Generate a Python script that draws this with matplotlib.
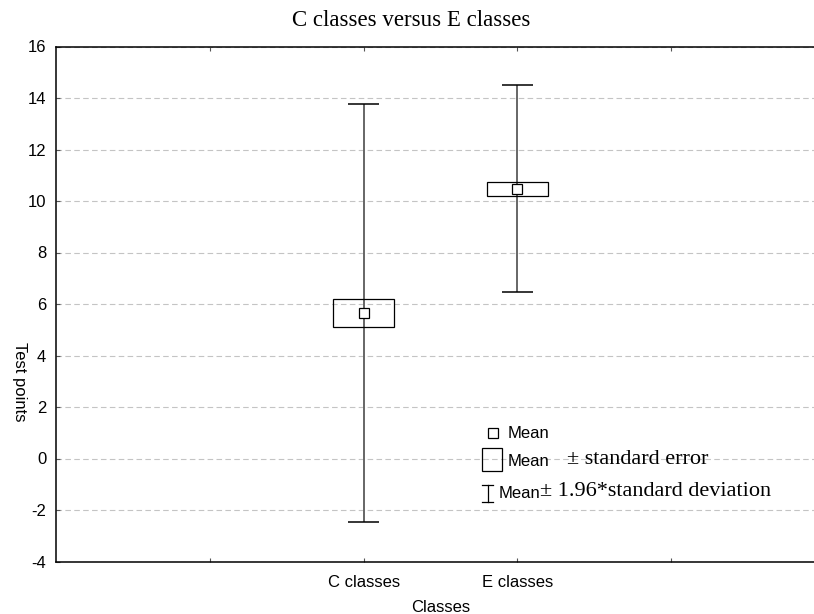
import matplotlib
matplotlib.use("Agg")
import matplotlib.pyplot as plt
from matplotlib.lines import Line2D
from matplotlib.patches import Rectangle

# data
groups = ["C classes", "E classes"]
means = [5.65, 10.48]
std_err = [0.54, 0.27]
ci_196sd = [8.11, 4.02]

tick_pos = [1, 2, 3, 4]
tick_labels = ["", "C classes", "E classes", ""]
group_pos = [2, 3]

SANS = "Liberation Sans"
SERIF = "Liberation Serif"
W, H = 814, 614

plt.rcParams["axes.unicode_minus"] = False

fig = plt.figure(figsize=(W / 100, H / 100), dpi=100)
# right spine falls outside the image in the original
ax = fig.add_axes([56 / W, 52.5 / H, 769 / W, 515 / H])

ax.set_xlim(0, 5)
ax.set_ylim(-4, 16)
ax.set_yticks(range(-4, 17, 2))
ax.set_xticks(tick_pos)
ax.set_xticklabels(tick_labels, fontfamily=SANS, fontsize=12)
for lab in ax.get_yticklabels():
    lab.set_fontfamily(SANS)
    lab.set_fontsize(12)
ax.tick_params(axis="both", direction="in", length=3, color="#555555", pad=7)
ax.tick_params(axis="x", top=True, pad=10)

ax.yaxis.grid(True, linestyle=(0, (5, 3)), color="#c4c4c4", linewidth=0.8)
ax.set_axisbelow(True)
for side in ["left", "top", "bottom"]:
    ax.spines[side].set_linewidth(1.1)
ax.spines["right"].set_visible(False)

lo = [m - c for m, c in zip(means, ci_196sd)]
hi = [m + c for m, c in zip(means, ci_196sd)]

# whiskers (gray) with black caps
ax.vlines(group_pos, lo, hi, color="#666666", linewidth=1.4, zorder=2)
caps_x0 = [p - 0.1 for p in group_pos]
caps_x1 = [p + 0.1 for p in group_pos]
ax.hlines(lo, caps_x0, caps_x1, color="black", linewidth=1.1, zorder=3)
ax.hlines(hi, caps_x0, caps_x1, color="black", linewidth=1.1, zorder=3)

# mean +- standard error boxes
ax.bar(group_pos, [2 * s for s in std_err],
       bottom=[m - s for m, s in zip(means, std_err)],
       width=0.4, fill=False, edgecolor="black", linewidth=0.9, zorder=3)

# means
ax.plot(group_pos, means, linestyle="none", marker="s", markersize=6.5,
        markerfacecolor="white", markeredgecolor="black",
        markeredgewidth=0.9, zorder=4)

ax.set_xlabel("Classes", fontfamily=SANS, fontsize=12, labelpad=7)
ax.set_ylabel("Test points", fontfamily=SANS, fontsize=12,
              rotation=270, va="center", labelpad=4)
ax.yaxis.set_label_coords(-37 / 769, 0.35)

fig.text(411 / W, 1 - 21 / H, "C classes versus E classes",
         fontfamily=SERIF, fontsize=16.5, ha="center", va="center")


# hand-built legend, placed in figure pixels
def fx(x):
    return x / W


def fy(y):
    return 1 - y / H


tf = fig.transFigure
fig.add_artist(Line2D([fx(493)], [fy(433)], marker="s", markersize=6.5,
                      markerfacecolor="white", markeredgecolor="black",
                      markeredgewidth=0.9, transform=tf))
fig.add_artist(Rectangle((fx(482), fy(471)), 20 / W, 23 / H, fill=False,
                         edgecolor="black", linewidth=0.9, transform=tf))
fig.add_artist(Line2D([fx(487.5), fx(487.5)], [fy(485), fy(502)],
                      color="black", linewidth=0.9, transform=tf))
fig.add_artist(Line2D([fx(482), fx(493)], [fy(485), fy(485)],
                      color="black", linewidth=0.9, transform=tf))
fig.add_artist(Line2D([fx(482), fx(493)], [fy(502), fy(502)],
                      color="black", linewidth=0.9, transform=tf))

fig.text(fx(508), fy(434), "Mean", fontfamily=SANS, fontsize=12, va="center")
fig.text(fx(508), fy(461), "Mean", fontfamily=SANS, fontsize=12, va="center")
fig.text(fx(567), fy(459), "± standard error", fontfamily=SERIF,
         fontsize=16, va="center")
fig.text(fx(499), fy(494), "Mean", fontfamily=SANS, fontsize=12, va="center")
fig.text(fx(540), fy(491), "± 1.96*standard deviation", fontfamily=SERIF,
         fontsize=16, va="center")

fig.savefig("out.png", dpi=100)
